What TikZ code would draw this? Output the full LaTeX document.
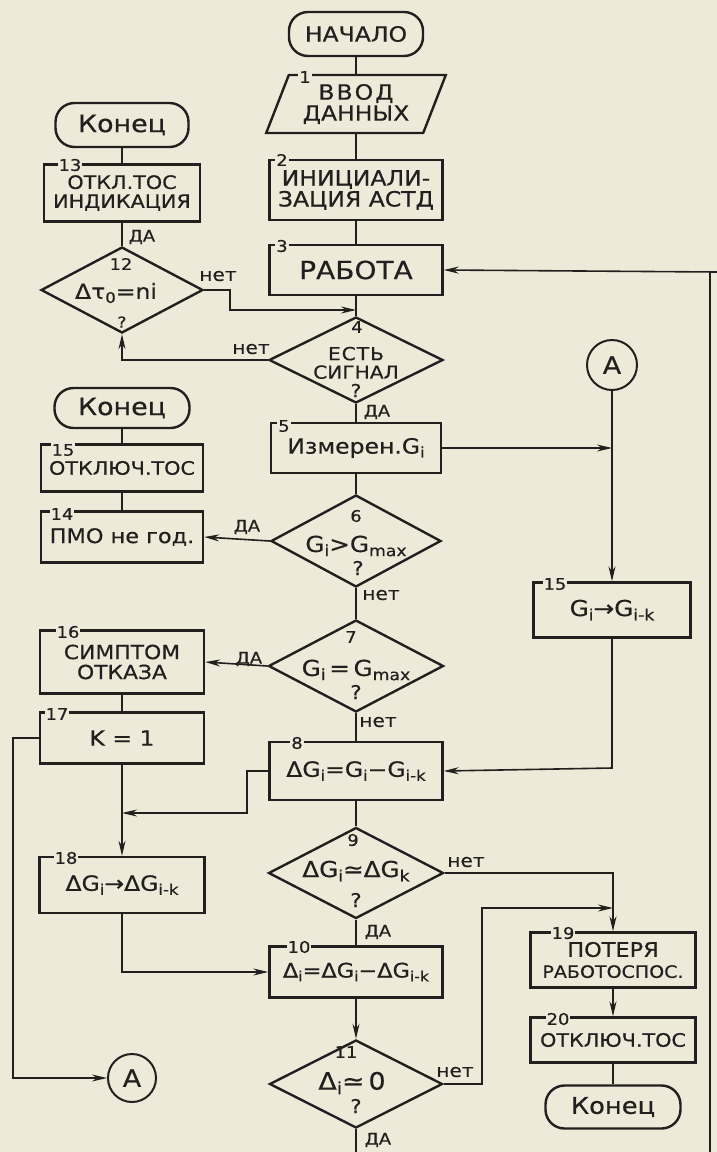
\documentclass[tikz,border=0pt]{standalone}
\usepackage{fontspec}
\setmainfont{DejaVu Sans}[FakeStretch=1.12,FakeBold=0.5]
\usetikzlibrary{shapes.geometric,arrows.meta}
\definecolor{paper}{RGB}{238,234,218}
\definecolor{ink}{RGB}{34,32,30}
\newcommand\myfs[2]{\fontsize{#1}{#2}\selectfont}
\makeatletter
\newcommand\ssub[1]{\raisebox{-0.35ex}{\fontsize{\strip@pt\dimexpr\f@size pt*70/100\relax}{1pt}\selectfont #1}}
\makeatother
\tikzset{
  pbox/.style={draw=ink, line width=2.4pt, rectangle, inner sep=2pt, align=center, text=ink},
  term/.style={draw=ink, line width=2.4pt, rectangle, rounded corners=19pt, inner sep=2pt, text=ink},
  dec/.style={draw=ink, line width=2.4pt, diamond, inner sep=0pt},
  io/.style={draw=ink, line width=2.4pt, trapezium, trapezium left angle=67, trapezium right angle=113, trapezium stretches=true, align=center, text=ink, inner sep=2pt},
  circ/.style={draw=ink, line width=2pt, circle, inner sep=0pt, text=ink, font=\myfs{24}{24}},
  conn/.style={draw=ink, line width=1.6pt},
  farr/.style={conn, -{Stealth[length=15pt,width=7pt]}},
  oarr/.style={conn, -{Stealth[open,length=15pt,width=7pt]}},
  num/.style={fill=paper, inner sep=1pt, font=\myfs{16}{16}, text=ink},
  dnum/.style={inner sep=0pt, font=\myfs{16}{16}, text=ink},
  lbl/.style={inner sep=1pt, font=\myfs{16}{16}, text=ink},
  txt/.style={inner sep=0pt, align=center, text=ink},
}
\begin{document}
\begin{tikzpicture}[x=1pt,y=-1pt]
\fill[paper] (0,0) rectangle (717,1152);
\useasboundingbox (0,0) rectangle (717,1152);

% ---------- middle column ----------
\node[term, minimum width=134pt, minimum height=44pt, font=\myfs{21}{21}] (start) at (356,34) {НАЧАЛО};
\node[io, minimum width=180pt, minimum height=58pt, font=\myfs{21}{21}] (b1) at (356,104) {В\hspace{2pt}В\hspace{2pt}О\hspace{2pt}Д\\ДАННЫХ};
\node[pbox, minimum width=173pt, minimum height=60pt, font=\myfs{21}{21}] (b2) at (356,190) {ИНИЦИАЛИ-\\ЗАЦИЯ АСТД};
\node[pbox, minimum width=173pt, minimum height=50pt, font=\myfs{25}{25}] (b3) at (356,270) {РАБОТА};
\node[dec, minimum width=174pt, minimum height=86pt] (d4) at (356,360) {};
\node[txt, font=\myfs{18}{18.5}] (t4) at (356,372) {Е\hspace{1pt}С\hspace{1pt}Т\hspace{1pt}Ь\\СИГНАЛ\\?};
\node[pbox, minimum width=170pt, minimum height=50pt, font=\myfs{21}{22}] (b5) at (356,448) {Измерен.G\ssub{i}};
\node[dec, minimum width=170pt, minimum height=92pt] (d6) at (356,541) {};
\node[txt, font=\myfs{22}{22}] (t6) at (356,546) {G\ssub{i}>G\ssub{max}};
\node[txt, font=\myfs{19}{19}] (q6) at (358,568) {?};
\node[dec, minimum width=175pt, minimum height=92pt] (d7) at (356,666) {};
\node[txt, font=\myfs{22}{22}] (t7) at (356,670) {G\ssub{i}\,=\,G\ssub{max}};
\node[txt, font=\myfs{19}{19}] (q7) at (356,692) {?};
\node[pbox, minimum width=173pt, minimum height=58pt, font=\myfs{21}{21}] (b8) at (356,771) {ΔG\ssub{i}=G\ssub{i}−G\ssub{i-k}};
\node[dec, minimum width=175pt, minimum height=91pt] (d9) at (356,873) {};
\node[txt, font=\myfs{22}{22}] (t9) at (356,871) {ΔG\ssub{i}≃ΔG\ssub{k}};
\node[txt, font=\myfs{19}{19}] (q9) at (356,900) {?};
\node[pbox, minimum width=173pt, minimum height=51pt, font=\myfs{20}{20}] (b10) at (356,972) {Δ\ssub{i}=ΔG\ssub{i}−ΔG\ssub{i-k}};
\node[dec, minimum width=173pt, minimum height=88pt] (d11) at (356,1084) {};
\node[txt, font=\myfs{24}{24}] (t11) at (352,1083) {Δ\ssub{i}≃\,0};
\node[txt, font=\myfs{19}{19}] (q11) at (356,1106) {?};

% ---------- left column ----------
\node[term, minimum width=133pt, minimum height=44pt, font=\myfs{24}{24}] (e1) at (122,125) {Конец};
\node[pbox, minimum width=156pt, minimum height=57pt, font=\myfs{18.5}{19}] (b13) at (122,193) {ОТКЛ.ТОС\\ИНДИКАЦИЯ};
\node[dec, minimum width=162pt, minimum height=86pt] (d12) at (122,290) {};
\node[txt, font=\myfs{21}{21}] (t12) at (116,293) {Δτ\ssub{0}=ni};
\node[txt, font=\myfs{15}{15}] (q12) at (122,322) {?};
\node[term, minimum width=135pt, minimum height=40pt, font=\myfs{24}{24}] (e2) at (122,408) {Конец};
\node[pbox, minimum width=162pt, minimum height=47pt, font=\myfs{18.5}{20}] (b15l) at (122,468) {ОТКЛЮЧ.ТОС};
\node[pbox, minimum width=162pt, minimum height=51pt, font=\myfs{20}{20}] (b14) at (122,537) {ПМО не год.};
\node[pbox, minimum width=164pt, minimum height=63pt, font=\myfs{19.5}{20}] (b16) at (122,662) {СИМПТОМ\\ОТКАЗА};
\node[pbox, minimum width=164pt, minimum height=51pt, font=\myfs{21}{21}] (b17) at (122,738) {K = 1};
\node[pbox, minimum width=165pt, minimum height=56pt, font=\myfs{21}{21}] (b18) at (122,885) {ΔG\ssub{i}→ΔG\ssub{i-k}};
\node[circ, minimum size=48pt] (cA2) at (132,1078) {A};

% ---------- right column ----------
\node[circ, minimum size=50pt] (cA1) at (612,365) {A};
\node[pbox, minimum width=157pt, minimum height=55pt, font=\myfs{22}{22}] (b15r) at (612,610) {G\ssub{i}→G\ssub{i-k}};
\node[pbox, minimum width=165pt, minimum height=55pt, align=center, font=\myfs{20}{21}] (b19) at (613,960) {ПОТЕРЯ\\{\myfs{17}{17}РАБОТОСПОС.}};
\node[pbox, minimum width=165pt, minimum height=45pt, font=\myfs{18.5}{20}] (b20) at (613,1040) {ОТКЛЮЧ.ТОС};
\node[term, minimum width=135pt, minimum height=43pt, font=\myfs{23}{23}] (e3) at (613,1107) {Конец};

% ---------- block numbers ----------
\node[num] (n1) at (305,77) {1};
\node[num] (n2) at (282,160) {2};
\node[num] (n3) at (282,246) {3};
\node[dnum] (n4) at (357,327) {4};
\node[num] (n5) at (284,426) {5};
\node[dnum] (n6) at (356,516) {6};
\node[dnum] (n7) at (351,637) {7};
\node[num] (n8) at (297,743) {8};
\node[dnum] (n9) at (353,840) {9};
\node[num] (n10) at (299,947) {10};
\node[dnum] (n11) at (346,1052) {11};
\node[dnum] (n12) at (121,264) {12};
\node[num] (n13) at (70,165) {13};
\node[num] (n15l) at (63,450) {15};
\node[num] (n14) at (62,514) {14};
\node[num] (n16) at (68,632) {16};
\node[num] (n17) at (57,714) {17};
\node[num] (n18) at (66,858) {18};
\node[num] (n15r) at (555,584) {15};
\node[num] (n19) at (563,933) {19};
\node[num] (n20) at (558,1019) {20};

% ---------- coordinates ----------
\coordinate (j1) at (356,310);
\coordinate (j2) at (122,813);
\coordinate (rt) at (717,272);
\coordinate (rc) at (710,272);
\coordinate (rb) at (710,1152);
\coordinate (db) at (356,1152);
\coordinate (j3) at (613,908);

% ---------- connectors ----------
\draw[conn] (start.south) -- (b1.north);
\draw[conn] (b1.south) -- (b2.north);
\draw[conn] (b2.south) -- (b3.north);
\draw[conn] (b3.south) -- (d4.north);
\draw[farr] (d12.east) -- (230,290) -- (230,310) -- (j1);
\draw[oarr] (d4.west) -- (d4.west -| d12.south) -- (d12.south);
\draw[conn] (d4.south) -- (b5.north);
\draw[farr] (b5.east) -- (b5.east -| cA1.south);
\draw[farr] (cA1.south) -- (b15r.north);
\draw[conn] (b5.south) -- (d6.north);
\draw[oarr] (d6.west) -- (b14.east);
\draw[conn] (d6.south) -- (d7.north);
\draw[conn] (e1.south) -- (b13.north);
\draw[conn] (b13.south) -- (d12.north);
\draw[conn] (e2.south) -- (b15l.north);
\draw[conn] (b15l.south) -- (b14.north);
\draw[oarr] (d7.west) -- (b16.east);
\draw[conn] (d7.south) -- (b8.north);
\draw[conn] (b16.south) -- (b17.north);
\draw[oarr] (b17.south) -- (b18.north);
\draw[oarr] (b8.west) -- (247,771) -- (247,813) -- (j2);
\draw[farr] (b17.west) -- (13,738) -- (13,1078) -- (cA2.west);
\draw[oarr] (b15r.south) -- (612,768) -- (b8.east);
\draw[conn] (b8.south) -- (d9.north);
\draw[farr] (d9.east) -- (d9.east -| b19.north) -- (b19.north);
\draw[conn] (d9.south) -- (b10.north);
\draw[farr] (b18.south) -- (b18.south |- b10.west) -- (b10.west);
\draw[farr] (b10.south) -- (d11.north);
\draw[farr] (d11.east) -- (482,1084) -- (482,908) -- (j3);
\draw[farr] (b19.south) -- (b20.north);
\draw[conn] (b20.south) -- (e3.north);
\draw[conn] (d11.south) -- (db);
\draw[farr] (rt) -- (b3.east);
\draw[conn] (rc) -- (rb);

% ---------- branch labels ----------
\node[lbl] (l1) at (142,237) {ДА};
\node[lbl, font=\myfs{18}{18}] (l2) at (218,276) {нет};
\node[lbl, font=\myfs{18}{18}] (l3) at (251,349) {нет};
\node[lbl] (l4) at (377,412) {ДА};
\node[lbl] (l5) at (247,527) {ДА};
\node[lbl, font=\myfs{18}{18}] (l6) at (381,595) {нет};
\node[lbl] (l7) at (249,659) {ДА};
\node[lbl, font=\myfs{18}{18}] (l8) at (378,722) {нет};
\node[lbl, font=\myfs{18}{18}] (l9) at (466,862) {нет};
\node[lbl] (l10) at (378,932) {ДА};
\node[lbl, font=\myfs{18}{18}] (l11) at (455,1072) {нет};
\node[lbl] (l12) at (378,1140) {ДА};
\end{tikzpicture}
\end{document}
